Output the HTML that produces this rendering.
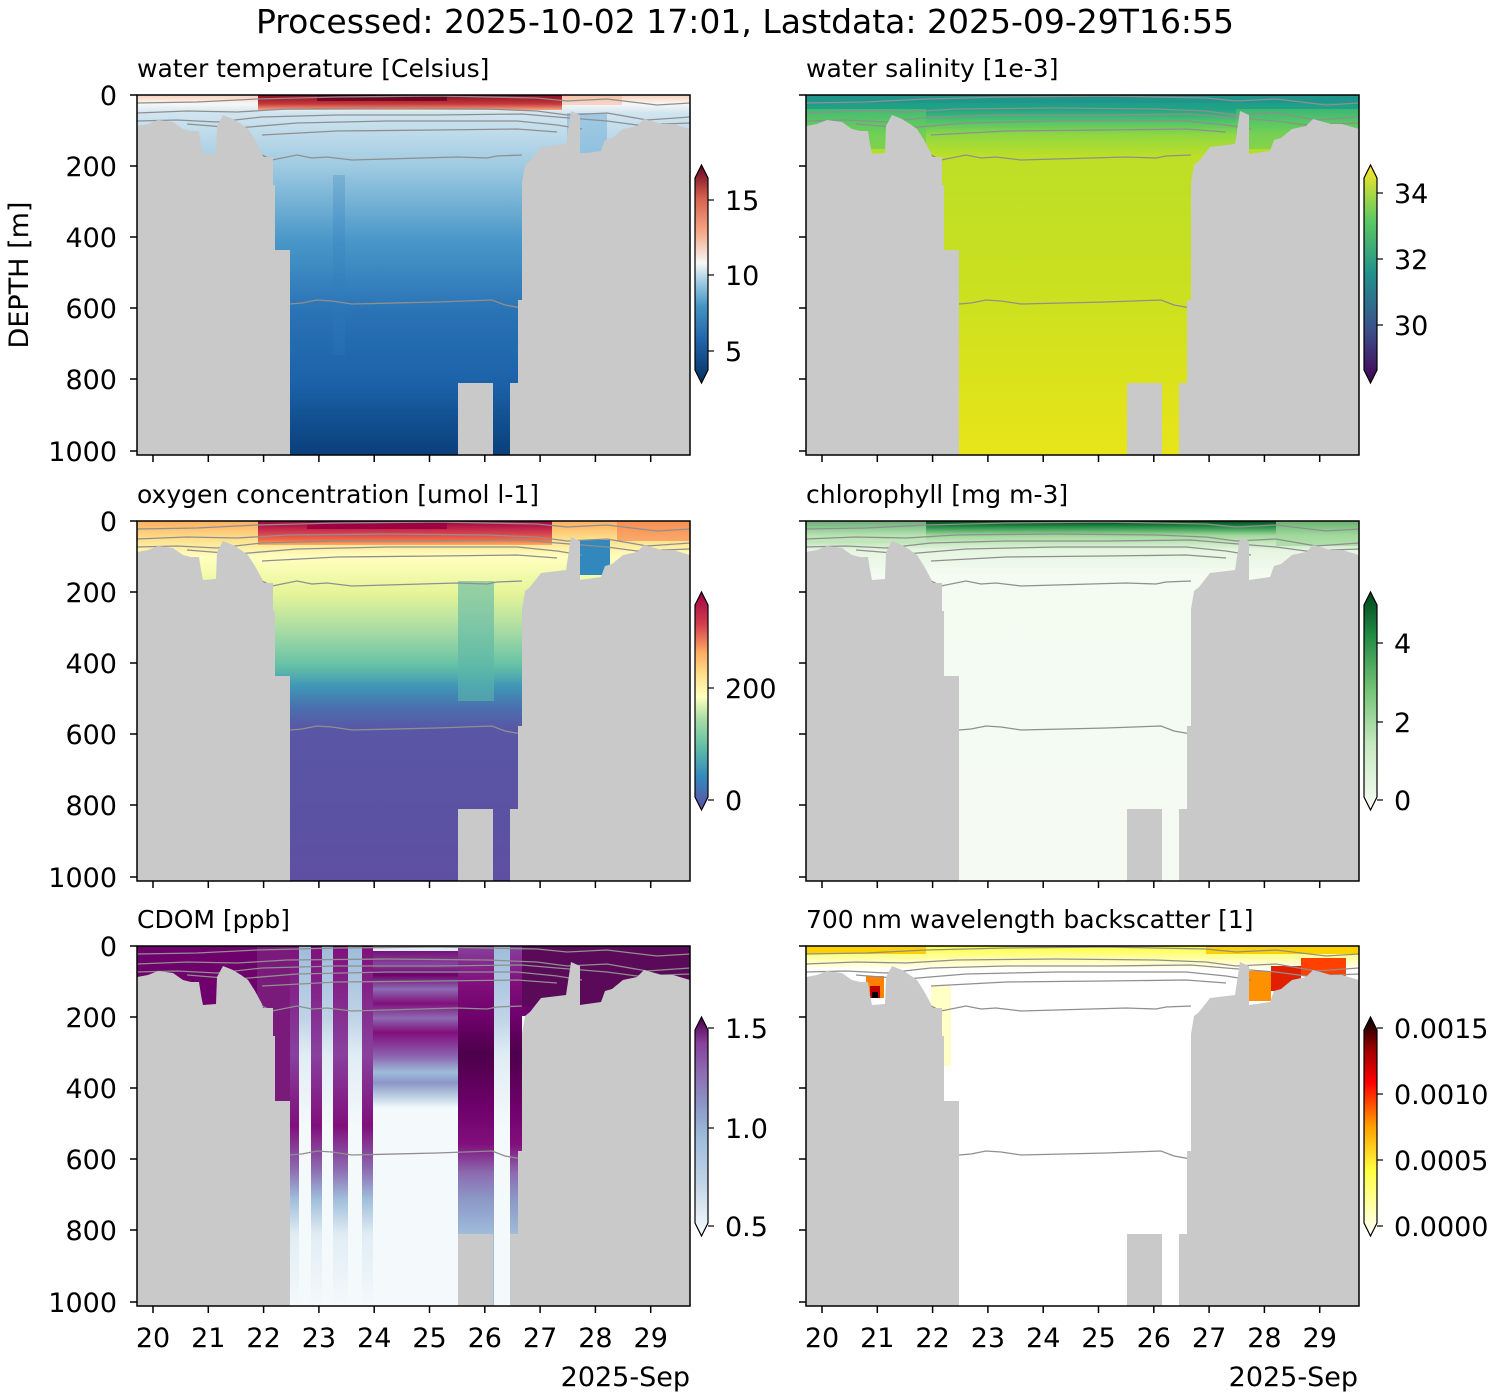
<!DOCTYPE html>
<html><head><meta charset="utf-8"><style>
html,body{margin:0;padding:0;background:#fff;}
svg{display:block;font-family:"DejaVu Sans","Liberation Sans",sans-serif;}
</style></head><body>
<svg width="1500" height="1400" viewBox="0 0 1500 1400" xmlns="http://www.w3.org/2000/svg">
<defs>
<path id="bathy" fill="#c9c9c9" d="M0,31 L11,29 L21,25 L36,27 L46,34 L54,36 L62,36 L64,49 L66,59 L79,58 L80,31 L86,20 L96,24 L104,29 L111,34 L118,45 L125,58 L126,62 L136,62 L136,90 L138,90 L138,155 L153,155 L153,360 L0,360 Z M321,360 L321,288 L356,288 L356,360 Z M373,360 L373,288 L381,288 L381,205 L385,205 L385,88 L388,70 L393,66 L404,52 L429,49 L434,16 L443,20 L443,59 L464,56 L468,45 L475,43 L486,34 L500,31 L507,24 L525,29 L536,29 L553,34 L553,360 Z"/>
<g id="cont" fill="none" stroke="#8f8f8f" stroke-width="1.3">
<polyline points="0,8 60,7 120,4 200,2 300,1 400,3 430,6 470,4 520,10 553,8"/>
<polyline points="0,18 50,16 100,17 150,14 250,13 350,14 400,16 430,20 470,18 510,25 553,22"/>
<polyline points="0,26 40,25 80,27 125,22 200,20 300,20 385,19 420,22 470,26 500,30 553,28"/>
<polyline points="50,29 100,33 160,28 250,26 380,26 420,30 445,34"/>
<polyline points="125,40 200,36 300,35 380,34 420,37"/>
<polyline points="125,60 135,65 160,60 175,63 190,62 215,65 250,64 320,62 350,63 360,61 385,60"/>
<polyline points="153,209 165,208 180,205 195,206 215,209 300,207 355,205 368,210 385,213"/>
</g>
<g id="xt" stroke="#000" stroke-width="1.5">
<line x1="16" y1="360" x2="16" y2="367"/><line x1="71.3" y1="360" x2="71.3" y2="367"/><line x1="126.6" y1="360" x2="126.6" y2="367"/><line x1="181.9" y1="360" x2="181.9" y2="367"/><line x1="237.2" y1="360" x2="237.2" y2="367"/><line x1="292.5" y1="360" x2="292.5" y2="367"/><line x1="347.8" y1="360" x2="347.8" y2="367"/><line x1="403.1" y1="360" x2="403.1" y2="367"/><line x1="458.4" y1="360" x2="458.4" y2="367"/><line x1="513.7" y1="360" x2="513.7" y2="367"/>
<line x1="0" y1="0" x2="-7" y2="0"/><line x1="0" y1="71" x2="-7" y2="71"/><line x1="0" y1="142" x2="-7" y2="142"/><line x1="0" y1="213" x2="-7" y2="213"/><line x1="0" y1="284" x2="-7" y2="284"/><line x1="0" y1="356" x2="-7" y2="356"/>
</g>
<linearGradient id="gT" x1="0" y1="0" x2="0" y2="360" gradientUnits="userSpaceOnUse">
<stop offset="0" stop-color="#fbd0b9"/><stop offset="0.025" stop-color="#f7f7f7"/><stop offset="0.05" stop-color="#d1e5f0"/><stop offset="0.2" stop-color="#9ecae1"/><stop offset="0.4" stop-color="#4a98c9"/><stop offset="0.6" stop-color="#2a73b5"/><stop offset="0.8" stop-color="#1b62a8"/><stop offset="1" stop-color="#0a3f7a"/></linearGradient>
<linearGradient id="gTr" x1="0" y1="0" x2="0" y2="1"><stop offset="0" stop-color="#8a0b22"/><stop offset="0.6" stop-color="#c63a3c"/><stop offset="1" stop-color="#f4a582"/></linearGradient>
<linearGradient id="gO" x1="0" y1="0" x2="0" y2="360" gradientUnits="userSpaceOnUse">
<stop offset="0" stop-color="#fdae61"/><stop offset="0.05" stop-color="#fee08b"/><stop offset="0.1" stop-color="#ffffbf"/><stop offset="0.2" stop-color="#e6f598"/><stop offset="0.3" stop-color="#abdda4"/><stop offset="0.4" stop-color="#66c2a5"/><stop offset="0.46" stop-color="#3f96b7"/><stop offset="0.52" stop-color="#4a6fae"/><stop offset="0.58" stop-color="#5956a5"/><stop offset="1" stop-color="#5e4fa2"/></linearGradient>
<linearGradient id="gOr" x1="0" y1="0" x2="0" y2="1"><stop offset="0" stop-color="#9e0142"/><stop offset="0.5" stop-color="#d53e4f"/><stop offset="0.8" stop-color="#f46d43"/><stop offset="1" stop-color="#fdae61"/></linearGradient>
<linearGradient id="gS" x1="0" y1="0" x2="0" y2="360" gradientUnits="userSpaceOnUse">
<stop offset="0" stop-color="#1f968b"/><stop offset="0.04" stop-color="#20a386"/><stop offset="0.07" stop-color="#4ac16d"/><stop offset="0.11" stop-color="#8fd744"/><stop offset="0.17" stop-color="#bddf26"/><stop offset="0.5" stop-color="#c8e020"/><stop offset="1" stop-color="#e8e419"/></linearGradient>
<linearGradient id="gC" x1="0" y1="0" x2="0" y2="360" gradientUnits="userSpaceOnUse">
<stop offset="0" stop-color="#00441b"/><stop offset="0.015" stop-color="#238b45"/><stop offset="0.04" stop-color="#a1d99b"/><stop offset="0.08" stop-color="#e5f5e0"/><stop offset="0.15" stop-color="#f4fbf1"/><stop offset="1" stop-color="#f5fbf3"/></linearGradient>
<linearGradient id="gD" x1="0" y1="0" x2="0" y2="360" gradientUnits="userSpaceOnUse">
<stop offset="0" stop-color="#6e016b"/><stop offset="0.05" stop-color="#88419d"/><stop offset="0.08" stop-color="#6e016b"/><stop offset="0.12" stop-color="#8c6bb1"/><stop offset="0.16" stop-color="#810f7c"/><stop offset="0.2" stop-color="#8c6bb1"/><stop offset="0.24" stop-color="#810f7c"/><stop offset="0.28" stop-color="#88419d"/><stop offset="0.31" stop-color="#8c6bb1"/><stop offset="0.35" stop-color="#9ebcda"/><stop offset="0.38" stop-color="#8c96c6"/><stop offset="0.42" stop-color="#bfd3e6"/><stop offset="0.45" stop-color="#f4f9fb"/><stop offset="1" stop-color="#f4f9fb"/></linearGradient>
<linearGradient id="gD2" x1="0" y1="0" x2="0" y2="360" gradientUnits="userSpaceOnUse">
<stop offset="0" stop-color="#88419d"/><stop offset="0.1" stop-color="#810f7c"/><stop offset="0.2" stop-color="#6e016b"/><stop offset="0.3" stop-color="#4d004b"/><stop offset="0.45" stop-color="#6e016b"/><stop offset="0.55" stop-color="#810f7c"/><stop offset="0.63" stop-color="#8c6bb1"/><stop offset="0.7" stop-color="#8c96c6"/><stop offset="0.8" stop-color="#9ebcda"/><stop offset="1" stop-color="#9ebcda"/></linearGradient>
<linearGradient id="gD3" x1="0" y1="0" x2="0" y2="360" gradientUnits="userSpaceOnUse">
<stop offset="0" stop-color="#810f7c"/><stop offset="0.3" stop-color="#88419d"/><stop offset="0.5" stop-color="#810f7c"/><stop offset="0.62" stop-color="#8c6bb1"/><stop offset="0.7" stop-color="#9ebcda"/><stop offset="0.8" stop-color="#e0ecf4"/><stop offset="1" stop-color="#f4f9fb"/></linearGradient>
<linearGradient id="gD4" x1="0" y1="0" x2="0" y2="360" gradientUnits="userSpaceOnUse">
<stop offset="0" stop-color="#9ebcda"/><stop offset="0.2" stop-color="#bfd3e6"/><stop offset="0.3" stop-color="#e0ecf4"/><stop offset="0.5" stop-color="#f4f9fb"/><stop offset="1" stop-color="#f4f9fb"/></linearGradient>
<linearGradient id="gB" x1="0" y1="0" x2="0" y2="1"><stop offset="0" stop-color="#ffff30"/><stop offset="0.4" stop-color="#ffff90"/><stop offset="1" stop-color="#ffffff"/></linearGradient>
<linearGradient id="cT" x1="0" y1="1" x2="0" y2="0"><stop offset="0" stop-color="#053061"/><stop offset="0.2" stop-color="#2166ac"/><stop offset="0.35" stop-color="#4393c3"/><stop offset="0.45" stop-color="#92c5de"/><stop offset="0.55" stop-color="#f7f7f7"/><stop offset="0.7" stop-color="#f4a582"/><stop offset="0.85" stop-color="#d6604d"/><stop offset="1" stop-color="#67001f"/></linearGradient>
<linearGradient id="cS" x1="0" y1="1" x2="0" y2="0"><stop offset="0" stop-color="#440154"/><stop offset="0.25" stop-color="#3b528b"/><stop offset="0.5" stop-color="#21918c"/><stop offset="0.75" stop-color="#5ec962"/><stop offset="1" stop-color="#fde725"/></linearGradient>
<linearGradient id="cO" x1="0" y1="1" x2="0" y2="0"><stop offset="0" stop-color="#5e4fa2"/><stop offset="0.15" stop-color="#3288bd"/><stop offset="0.3" stop-color="#66c2a5"/><stop offset="0.42" stop-color="#abdda4"/><stop offset="0.52" stop-color="#ffffbf"/><stop offset="0.62" stop-color="#fee08b"/><stop offset="0.72" stop-color="#fdae61"/><stop offset="0.85" stop-color="#d53e4f"/><stop offset="1" stop-color="#9e0142"/></linearGradient>
<linearGradient id="cC" x1="0" y1="1" x2="0" y2="0"><stop offset="0" stop-color="#f7fcf5"/><stop offset="0.3" stop-color="#c7e9c0"/><stop offset="0.55" stop-color="#74c476"/><stop offset="0.8" stop-color="#238b45"/><stop offset="1" stop-color="#00441b"/></linearGradient>
<linearGradient id="cD" x1="0" y1="1" x2="0" y2="0"><stop offset="0" stop-color="#f7fcfd"/><stop offset="0.25" stop-color="#bfd3e6"/><stop offset="0.45" stop-color="#9ebcda"/><stop offset="0.6" stop-color="#8c96c6"/><stop offset="0.75" stop-color="#8c6bb1"/><stop offset="0.88" stop-color="#88419d"/><stop offset="1" stop-color="#4d004b"/></linearGradient>
<linearGradient id="cB" x1="0" y1="1" x2="0" y2="0"><stop offset="0" stop-color="#ffffff"/><stop offset="0.3" stop-color="#ffff40"/><stop offset="0.5" stop-color="#ffa000"/><stop offset="0.7" stop-color="#ff0000"/><stop offset="0.85" stop-color="#a00000"/><stop offset="1" stop-color="#000000"/></linearGradient>
</defs>

<text x="745" y="33" font-size="33" text-anchor="middle">Processed: 2025-10-02 17:01, Lastdata: 2025-09-29T16:55</text>

<g transform="translate(137,95)">
<rect width="553" height="360" fill="url(#gT)"/>
<rect x="121" y="0" width="304" height="15" fill="url(#gTr)"/>
<rect x="180" y="0" width="130" height="6" fill="#67001f" opacity="0.8"/>
<rect x="425" y="0" width="60" height="10" fill="#f4a582" opacity="0.4"/>
<rect x="430" y="18" width="40" height="40" fill="#7fb8da" opacity="0.6"/>
<rect x="196" y="80" width="12" height="180" fill="#2f7cba" opacity="0.25"/>
<use href="#cont"/><use href="#bathy"/>
<rect width="553" height="360" fill="none" stroke="#000" stroke-width="1.5"/>
<use href="#xt"/>
</g>
<g transform="translate(806,95)">
<rect width="553" height="360" fill="url(#gS)"/>
<rect x="0" y="0" width="553" height="8" fill="#1f968b"/>
<rect x="0" y="14" width="120" height="40" fill="#5ec962" opacity="0.6"/>
<rect x="430" y="14" width="123" height="40" fill="#5ec962" opacity="0.5"/>
<use href="#cont"/><use href="#bathy"/>
<rect width="553" height="360" fill="none" stroke="#000" stroke-width="1.5"/>
<use href="#xt"/>
</g>
<g transform="translate(137,521)">
<rect width="553" height="360" fill="url(#gO)"/>
<rect x="121" y="0" width="294" height="24" fill="url(#gOr)"/>
<rect x="170" y="0" width="140" height="8" fill="#9e0142"/>
<rect x="321" y="60" width="36" height="120" fill="#5bb5a9" opacity="0.6"/>
<rect x="443" y="19" width="30" height="35" fill="#3288bd"/>
<rect x="480" y="0" width="73" height="20" fill="#f46d43" opacity="0.5"/>
<use href="#cont"/><use href="#bathy"/>
<rect width="553" height="360" fill="none" stroke="#000" stroke-width="1.5"/>
<use href="#xt"/>
</g>
<g transform="translate(806,521)">
<rect width="553" height="360" fill="url(#gC)"/>
<rect x="470" y="0" width="83" height="25" fill="#a1d99b" opacity="0.7"/>
<rect x="0" y="0" width="120" height="20" fill="#c7e9c0" opacity="0.6"/>
<use href="#cont"/><use href="#bathy"/>
<rect width="553" height="360" fill="none" stroke="#000" stroke-width="1.5"/>
<use href="#xt"/>
</g>
<g transform="translate(137,946)">
<rect width="553" height="360" fill="#f4f9fb"/>
<rect x="0" y="0" width="553" height="70" fill="#6e016b"/>
<rect x="236" y="0" width="85" height="360" fill="url(#gD)"/>
<rect x="321" y="0" width="36" height="360" fill="url(#gD2)"/>
<rect x="357" y="0" width="16" height="360" fill="url(#gD4)"/>
<rect x="373" y="0" width="12" height="360" fill="url(#gD2)"/>
<rect x="153" y="0" width="9" height="360" fill="url(#gD3)"/>
<rect x="162" y="0" width="12" height="360" fill="url(#gD4)"/>
<rect x="174" y="0" width="11" height="360" fill="url(#gD3)"/>
<rect x="185" y="0" width="11" height="360" fill="url(#gD4)"/>
<rect x="196" y="0" width="15" height="360" fill="url(#gD3)"/>
<rect x="211" y="0" width="14" height="360" fill="url(#gD4)"/>
<rect x="225" y="0" width="11" height="360" fill="url(#gD3)"/>
<rect x="120" y="0" width="33" height="170" fill="#7a1a7a"/>
<rect x="385" y="0" width="168" height="60" fill="#5a0a58"/>
<rect x="0" y="0" width="120" height="60" fill="#6e016b"/>
<rect x="236" y="0" width="85" height="5" fill="#e0ecf4"/>
<use href="#cont"/><use href="#bathy"/>
<rect width="553" height="360" fill="none" stroke="#000" stroke-width="1.5"/>
<use href="#xt"/>
</g>
<g transform="translate(806,946)">
<rect width="553" height="360" fill="#fff"/>
<rect x="0" y="0" width="553" height="24" fill="url(#gB)"/>
<rect x="0" y="0" width="120" height="8" fill="#ffd000"/>
<rect x="400" y="0" width="153" height="8" fill="#ffd000"/>
<rect x="60" y="30" width="18" height="22" fill="#ff8000"/>
<rect x="64" y="40" width="10" height="12" fill="#c00000"/>
<rect x="66" y="46" width="6" height="6" fill="#000"/>
<rect x="440" y="25" width="25" height="30" fill="#ff9000"/>
<rect x="465" y="20" width="30" height="25" fill="#e02000"/>
<rect x="495" y="12" width="45" height="18" fill="#ff4000"/>
<rect x="125" y="40" width="20" height="80" fill="#ffffa0" opacity="0.6"/>
<use href="#cont"/><use href="#bathy"/>
<rect width="553" height="360" fill="none" stroke="#000" stroke-width="1.5"/>
<use href="#xt"/>
</g>

<g font-size="27" text-anchor="end">
<text x="117" y="105">0</text><text x="117" y="176">200</text><text x="117" y="247">400</text><text x="117" y="318">600</text><text x="117" y="389">800</text><text x="117" y="461">1000</text>
<text x="117" y="531">0</text><text x="117" y="602">200</text><text x="117" y="673">400</text><text x="117" y="744">600</text><text x="117" y="815">800</text><text x="117" y="887">1000</text>
<text x="117" y="956">0</text><text x="117" y="1027">200</text><text x="117" y="1098">400</text><text x="117" y="1169">600</text><text x="117" y="1240">800</text><text x="117" y="1312">1000</text>
</g>
<text transform="translate(28,275) rotate(-90)" font-size="27" text-anchor="middle">DEPTH [m]</text>

<g font-size="27" text-anchor="middle">
<text x="153" y="1347">20</text><text x="208.3" y="1347">21</text><text x="263.6" y="1347">22</text><text x="318.9" y="1347">23</text><text x="374.2" y="1347">24</text><text x="429.5" y="1347">25</text><text x="484.8" y="1347">26</text><text x="540.1" y="1347">27</text><text x="595.4" y="1347">28</text><text x="650.7" y="1347">29</text>
<text x="822" y="1347">20</text><text x="877.3" y="1347">21</text><text x="932.6" y="1347">22</text><text x="987.9" y="1347">23</text><text x="1043.2" y="1347">24</text><text x="1098.5" y="1347">25</text><text x="1153.8" y="1347">26</text><text x="1209.1" y="1347">27</text><text x="1264.4" y="1347">28</text><text x="1319.7" y="1347">29</text>
</g>
<g font-size="27" text-anchor="end"><text x="690" y="1386">2025-Sep</text><text x="1358" y="1386">2025-Sep</text></g>

<g font-size="25">
<text x="137" y="77">water temperature [Celsius]</text>
<text x="806" y="77">water salinity [1e-3]</text>
<text x="137" y="503">oxygen concentration [umol l-1]</text>
<text x="806" y="503">chlorophyll [mg m-3]</text>
<text x="137" y="928">CDOM [ppb]</text>
<text x="806" y="928">700 nm wavelength backscatter [1]</text>
</g>

<g stroke="#000" stroke-width="1.2">
<polygon points="695,178 701.5,165 708,178 708,370 701.5,383 695,370" fill="url(#cT)"/>
<polygon points="1364,178 1370.5,165 1377,178 1377,370 1370.5,383 1364,370" fill="url(#cS)"/>
<polygon points="695,605 701.5,592 708,605 708,797 701.5,810 695,797" fill="url(#cO)"/>
<polygon points="1364,605 1370.5,592 1377,605 1377,797 1370.5,810 1364,797" fill="url(#cC)"/>
<polygon points="695,1030 701.5,1017 708,1030 708,1223 701.5,1236 695,1223" fill="url(#cD)"/>
<polygon points="1364,1030 1370.5,1017 1377,1030 1377,1223 1370.5,1236 1364,1223" fill="url(#cB)"/>
<line x1="708" y1="200" x2="714" y2="200"/><line x1="708" y1="275" x2="714" y2="275"/><line x1="708" y1="351" x2="714" y2="351"/>
<line x1="1377" y1="193" x2="1383" y2="193"/><line x1="1377" y1="259" x2="1383" y2="259"/><line x1="1377" y1="325" x2="1383" y2="325"/>
<line x1="708" y1="688" x2="714" y2="688"/><line x1="708" y1="800" x2="714" y2="800"/>
<line x1="1377" y1="643" x2="1383" y2="643"/><line x1="1377" y1="722" x2="1383" y2="722"/><line x1="1377" y1="800" x2="1383" y2="800"/>
<line x1="708" y1="1028" x2="714" y2="1028"/><line x1="708" y1="1128" x2="714" y2="1128"/><line x1="708" y1="1226" x2="714" y2="1226"/>
<line x1="1377" y1="1028" x2="1383" y2="1028"/><line x1="1377" y1="1094" x2="1383" y2="1094"/><line x1="1377" y1="1160" x2="1383" y2="1160"/><line x1="1377" y1="1226" x2="1383" y2="1226"/>
</g>
<g font-size="27">
<text x="725" y="210">15</text><text x="725" y="285">10</text><text x="725" y="361">5</text>
<text x="1394" y="203">34</text><text x="1394" y="269">32</text><text x="1394" y="335">30</text>
<text x="725" y="698">200</text><text x="725" y="810">0</text>
<text x="1394" y="653">4</text><text x="1394" y="732">2</text><text x="1394" y="810">0</text>
<text x="725" y="1038">1.5</text><text x="725" y="1138">1.0</text><text x="725" y="1236">0.5</text>
<text x="1394" y="1038">0.0015</text><text x="1394" y="1104">0.0010</text><text x="1394" y="1170">0.0005</text><text x="1394" y="1236">0.0000</text>
</g>
</svg>
</body></html>
